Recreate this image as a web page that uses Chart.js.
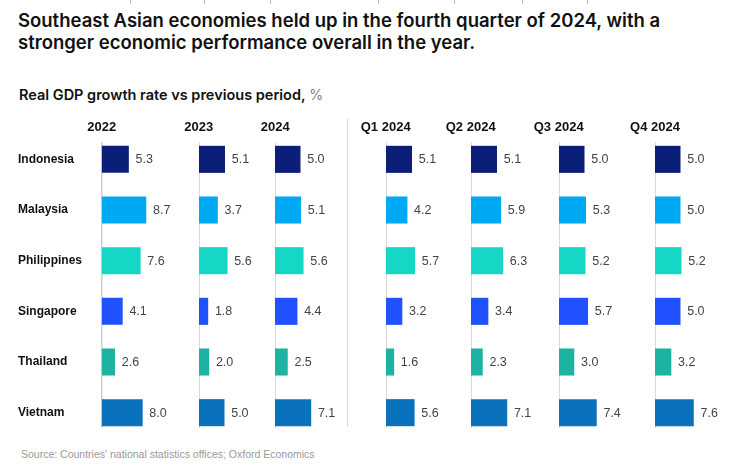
<!DOCTYPE html>
<html>
<head>
<meta charset="utf-8">
<script src="https://cdn.jsdelivr.net/npm/chart.js@4.4.1/dist/chart.umd.min.js"></script>
<style>
  html, body { margin: 0; padding: 0; background: #fff; }
  body { width: 752px; height: 466px; position: relative; overflow: hidden; font-family: Inter, "Liberation Sans", Arial, sans-serif; }
  #title { position: absolute; left: 18px; top: 10px; font-size: 18.5px; line-height: 21.5px; font-weight: 600; color: #111; white-space: nowrap; }
  #subtitle { position: absolute; left: 19px; top: 86px; font-size: 14.5px; line-height: 18px; font-weight: 600; color: #111; white-space: nowrap; }
  #subtitle span { color: #888; font-weight: 400; }
  #source { position: absolute; left: 21px; top: 447px; font-size: 10.5px; line-height: 14px; color: #999; white-space: nowrap; font-family: "Liberation Sans", Arial, sans-serif; }
  .hdr { position: absolute; top: 119px; font-size: 13px; line-height: 16px; font-weight: 700; color: #111; transform: translateX(-50%); white-space: nowrap; font-family: "Liberation Sans", Arial, sans-serif; }
  #sep { position: absolute; left: 347px; top: 118px; width: 1px; height: 309px; background: #dcdcdc; }
  .tk { position: absolute; top: 0; width: 1px; height: 4px; background: #bbb; }
  canvas { position: absolute; }
</style>
</head>
<body>
<div class="tk" style="left:130px"></div>
<div class="tk" style="left:204px"></div>
<div class="tk" style="left:270px"></div>
<div class="tk" style="left:378px"></div>
<div class="tk" style="left:454px"></div>
<div class="tk" style="left:522px"></div>
<div class="tk" style="left:587px"></div>
<div id="title">Southeast Asian economies held up in the fourth quarter of 2024, with a<br>stronger economic performance overall in the year.</div>
<div id="subtitle">Real GDP growth rate vs previous period, <span>%</span></div>
<div id="sep"></div>
<div id="source">Source: Countries' national statistics offices; Oxford Economics</div>
<script>
// ---- DATA ----
const countries = ['Indonesia', 'Malaysia', 'Philippines', 'Singapore', 'Thailand', 'Vietnam'];
const periods = ['2022', '2023', '2024', 'Q1 2024', 'Q2 2024', 'Q3 2024', 'Q4 2024'];
const values2022 = [5.3, 8.7, 7.6, 4.1, 2.6, 8.0];
const values2023 = [5.1, 3.7, 5.6, 1.8, 2.0, 5.0];
const values2024 = [5.0, 5.1, 5.6, 4.4, 2.5, 7.1];
const valuesQ1 = [5.1, 4.2, 5.7, 3.2, 1.6, 5.6];
const valuesQ2 = [5.1, 5.9, 6.3, 3.4, 2.3, 7.1];
const valuesQ3 = [5.0, 5.3, 5.2, 5.7, 3.0, 7.4];
const valuesQ4 = [5.0, 5.0, 5.2, 5.0, 3.2, 7.6];
const seriesValues = [values2022, values2023, values2024, valuesQ1, valuesQ2, valuesQ3, valuesQ4];
const countryColors = ['#0b1e78', '#00a9f4', '#16d7c5', '#2251ff', '#1db3a2', '#0a72bd'];

// ---- LAYOUT ----
const PX_PER_UNIT = 5.1;
const axisX = [101.7, 198.7, 275.3, 385.7, 470.7, 558.7, 655];
const plotTop = 133.7, plotHeight = 303.6;
const panelWidth = 72;
const labelLeft = 18;

const panelPlugin = {
  id: 'panelDecor',
  beforeDatasetsDraw(chart) {
    const ctx = chart.ctx, x = chart.scales.x.getPixelForValue(0), a = chart.chartArea;
    ctx.save();
    ctx.strokeStyle = '#cfcfcf';
    ctx.lineWidth = 1.5;
    ctx.beginPath();
    ctx.moveTo(x, a.top + 8);
    ctx.lineTo(x, a.bottom - 10);
    ctx.stroke();
    ctx.restore();
  },
  afterDatasetsDraw(chart) {
    const ctx = chart.ctx, meta = chart.getDatasetMeta(0), data = chart.data.datasets[0].data;
    ctx.save();
    ctx.font = '12.5px "Liberation Sans", Arial, sans-serif';
    ctx.fillStyle = '#444';
    ctx.textBaseline = 'middle';
    ctx.textAlign = 'left';
    meta.data.forEach((bar, i) => ctx.fillText(data[i].toFixed(1), bar.x + 6.7, bar.y + 0.5));
    ctx.restore();
  }
};

periods.forEach((p, k) => {
  const first = k === 0;
  const left = first ? labelLeft : axisX[k];
  const width = first ? (axisX[k] - labelLeft) + panelWidth : panelWidth;
  const canvas = document.createElement('canvas');
  canvas.width = Math.round(width);
  canvas.height = Math.round(plotHeight);
  canvas.style.left = left + 'px';
  canvas.style.top = plotTop + 'px';
  canvas.style.width = Math.round(width) + 'px';
  canvas.style.height = Math.round(plotHeight) + 'px';
  document.body.appendChild(canvas);

  const hdr = document.createElement('div');
  hdr.className = 'hdr';
  hdr.textContent = p;
  hdr.style.left = axisX[k] + 'px';
  document.body.appendChild(hdr);

  new Chart(canvas, {
    type: 'bar',
    data: {
      labels: countries,
      datasets: [{
        data: seriesValues[k],
        backgroundColor: countryColors,
        borderWidth: 0,
        barPercentage: 0.534,
        categoryPercentage: 1.0
      }]
    },
    options: {
      indexAxis: 'y',
      responsive: false,
      animation: false,
      devicePixelRatio: 1,
      layout: { padding: 0 },
      plugins: { legend: { display: false }, tooltip: { enabled: false }, title: { display: false } },
      scales: {
        x: {
          display: false,
          min: 0,
          max: panelWidth / PX_PER_UNIT
        },
        y: {
          display: first,
          grid: { display: false, drawTicks: false },
          border: { display: false },
          ticks: {
            crossAlign: 'far',
            padding: 0,
            color: '#111',
            font: { family: '"Liberation Sans", Arial, sans-serif', size: 12, weight: 'bold' }
          },
          afterFit(scale) {
            if (first) {
              scale.width = axisX[0] - labelLeft;
              scale.paddingTop = 0;
              scale.paddingBottom = 0;
            }
          }
        }
      }
    },
    plugins: [panelPlugin]
  });
});
</script>
</body>
</html>
